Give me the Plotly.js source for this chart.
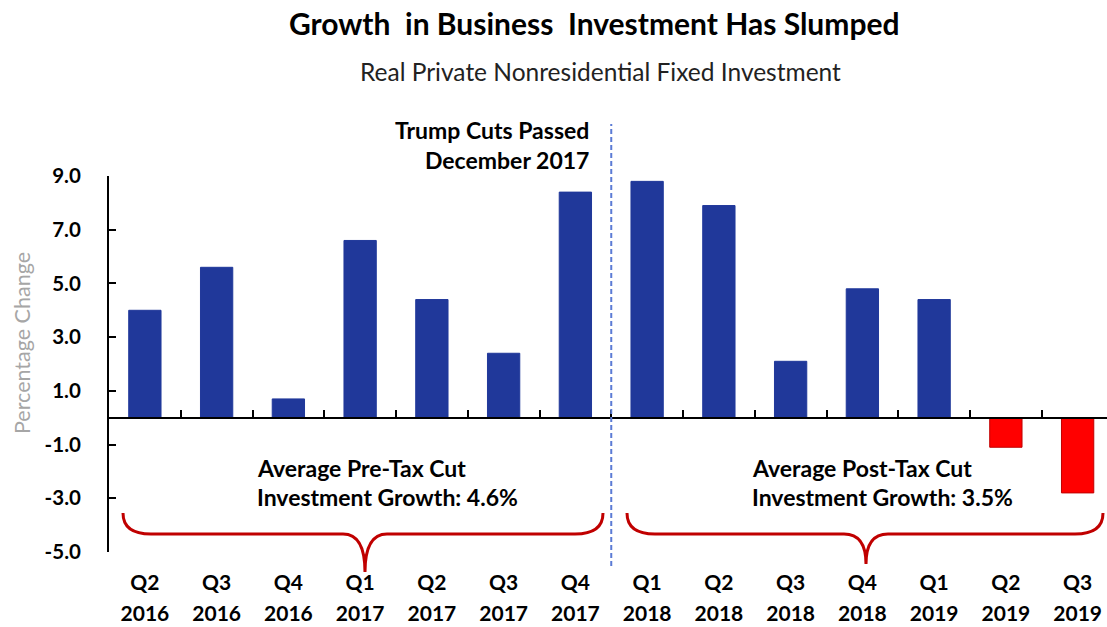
<!DOCTYPE html>
<html>
<head>
<meta charset="utf-8">
<script src="https://cdn.plot.ly/plotly-3.0.1.min.js"></script>
<style>html,body{margin:0;padding:0;background:#fff;}#chart{width:1107px;height:627px;}</style>
</head>
<body>
<div id="chart"></div>
<script>
// ---- data ----
const quarters = ["Q2","Q3","Q4","Q1","Q2","Q3","Q4","Q1","Q2","Q3","Q4","Q1","Q2","Q3"];
const years = ["2016","2016","2016","2017","2017","2017","2017","2018","2018","2018","2018","2019","2019","2019"];
const growth = [4.0, 5.6, 0.7, 6.6, 4.4, 2.4, 8.4, 8.8, 7.9, 2.1, 4.8, 4.4, -1.1, -2.8];
const yTicks = [-5, -3, -1, 1, 3, 5, 7, 9];
const chartTitle = "Growth  in Business  Investment Has Slumped";
const chartSubtitle = "Real Private Nonresidential Fixed Investment";
const yTitle = "Percentage Change";
const cutNote = ["Trump Cuts Passed", "December 2017"];
const preNote = ["Average Pre-Tax Cut", "Investment Growth: 4.6%"];
const postNote = ["Average Post-Tax Cut", "Investment Growth: 3.5%"];

// ---- layout geometry ----
const W = 1107, H = 627, L = 109, R = 0, T = 176, B = 75;
const plotW = W - L - R, plotH = H - T - B;
const catPx = 71.75;
const xRange = [-0.5, -0.5 + plotW / catPx];
const yRange = [-5, 9];
const px = x => (x - L) / plotW;
const py = y => (H - B - y) / plotH;
const cx = i => (i - xRange[0]) / (xRange[1] - xRange[0]);
const vy = v => (v - yRange[0]) / (yRange[1] - yRange[0]);

const idx = growth.map((_, i) => i);
const bounds = [];
for (let i = 0; i <= growth.length; i++) bounds.push(i - 0.5);

const FONT = "Lato, 'Open Sans', sans-serif";

const traces = [
  {
    type: "bar", x: idx, y: growth, width: 0.45,
    marker: {
      color: growth.map(v => v < 0 ? "#FF0000" : "#20389A"),
      line: { color: growth.map(v => v < 0 ? "#C00000" : "#20389A"), width: 1 }
    },
    hoverinfo: "x+y", showlegend: false
  },
  { type: "scatter", x: [0], y: [0], xaxis: "x2", mode: "markers", marker: { opacity: 0 }, hoverinfo: "skip", showlegend: false },
  { type: "scatter", x: [0], y: [0], xaxis: "x3", mode: "markers", marker: { opacity: 0 }, hoverinfo: "skip", showlegend: false }
];

function brace(x0, x1, xc, yTop, yMid, yTip) {
  const P = (x, y) => px(x).toFixed(5) + "," + py(y).toFixed(5);
  return "M" + P(x0, yTop) +
    " Q" + P(x0, yMid) + " " + P(x0 + 28, yMid) +
    " L" + P(xc - 22, yMid) +
    " Q" + P(xc, yMid) + " " + P(xc, yTip) +
    " Q" + P(xc, yMid) + " " + P(xc + 22, yMid) +
    " L" + P(x1 - 28, yMid) +
    " Q" + P(x1, yMid) + " " + P(x1, yTop);
}

const shapes = [
  { type: "line", xref: "paper", yref: "paper", x0: cx(6.5), x1: cx(6.5), y0: py(566), y1: py(124),
    line: { color: "#5B7BD5", width: 2, dash: "5px,3px" } },
  { type: "path", xref: "paper", yref: "paper", path: brace(123, 603, 365, 513, 534, 572),
    line: { color: "#C00000", width: 3 } },
  { type: "path", xref: "paper", yref: "paper", path: brace(627, 1103, 866, 513, 534, 564),
    line: { color: "#C00000", width: 3 } }
];

function ann(text, x, y, opts) {
  return Object.assign({
    text: text, xref: "paper", yref: "paper", x: px(x), y: py(y),
    showarrow: false, xanchor: "center", yanchor: "middle",
    font: { family: FONT, size: 23, color: "#000" }
  }, opts || {});
}

const annotations = [
  ann("<b>" + chartTitle + "</b>", 594, 23, { font: { family: FONT, size: 30, color: "#000" } }),
  ann(chartSubtitle, 600, 72, { font: { family: FONT, size: 24.5, color: "#222" } }),
  ann(yTitle, 22, 343, { textangle: -90, font: { family: FONT, size: 21.5, color: "#A6A6A6" } }),
  ann("<b>" + cutNote[0] + "</b>", 591, 130, { xanchor: "right" }),
  ann("<b>" + cutNote[1] + "</b>", 591, 160, { xanchor: "right" }),
  ann("<b>" + preNote[0] + "</b>", 255, 468, { xanchor: "left" }),
  ann("<b>" + preNote[1] + "</b>", 255, 497, { xanchor: "left" }),
  ann("<b>" + postNote[0] + "</b>", 750, 468, { xanchor: "left" }),
  ann("<b>" + postNote[1] + "</b>", 750, 497, { xanchor: "left" })
];

const layout = {
  width: W, height: H,
  margin: { l: L, r: R, t: T, b: B, pad: 0 },
  paper_bgcolor: "#fff", plot_bgcolor: "#fff",
  showlegend: false,
  xaxis: {
    range: xRange, tickmode: "array", tickvals: idx, ticktext: quarters.map(q => "<b>" + q + "</b>"),
    showline: false, ticks: "", showgrid: false, zeroline: false,
    tickfont: { family: FONT, size: 21, color: "#000" }, ticklabelstandoff: 16, fixedrange: true
  },
  xaxis2: {
    overlaying: "x", anchor: "free", position: vy(0), side: "bottom",
    range: xRange, tickmode: "array", tickvals: bounds, showticklabels: false,
    showline: true, linecolor: "#000", linewidth: 2,
    ticks: "inside", ticklen: 7, tickwidth: 2, tickcolor: "#000",
    showgrid: false, zeroline: false, fixedrange: true
  },
  xaxis3: {
    overlaying: "x", anchor: "y", side: "bottom",
    range: xRange, tickmode: "array", tickvals: idx, ticktext: years.map(y => "<b>" + y + "</b>"),
    showline: false, ticks: "", showgrid: false, zeroline: false,
    tickfont: { family: FONT, size: 21, color: "#000" }, ticklabelstandoff: 47, fixedrange: true
  },
  yaxis: {
    range: yRange, tickmode: "array", tickvals: yTicks, ticktext: yTicks.map(v => "<b>" + v.toFixed(1) + "</b>"),
    showline: true, linecolor: "#000", linewidth: 2,
    ticks: "inside", ticklen: 7, tickwidth: 2, tickcolor: "#000",
    showgrid: false, zeroline: false,
    tickfont: { family: FONT, size: 20.5, color: "#000" }, ticklabelstandoff: 22, fixedrange: true
  },
  shapes: shapes,
  annotations: annotations
};

Plotly.newPlot("chart", traces, layout, { displayModeBar: false, staticPlot: true });
</script>
</body>
</html>
